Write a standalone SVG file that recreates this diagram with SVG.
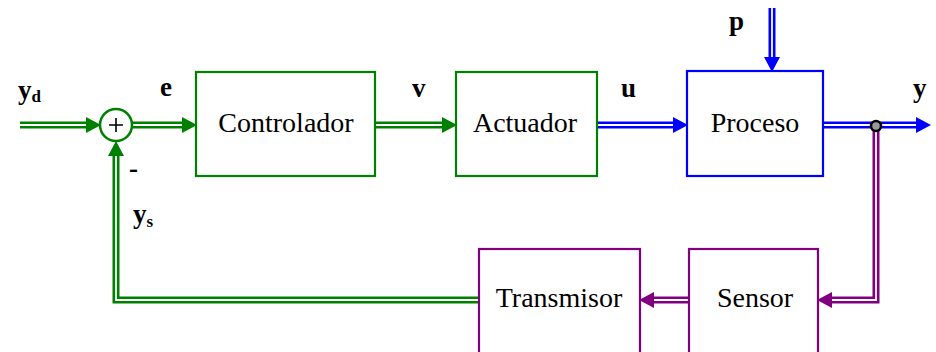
<svg xmlns="http://www.w3.org/2000/svg" width="936" height="352" viewBox="0 0 936 352">
  <style>
    .box { fill: #ffffff; stroke-width: 2.2; }
    .g { stroke: #008000; }
    .b { stroke: #0000ff; }
    .m { stroke: #800080; }
    .name { font-family: "Liberation Serif", "Times New Roman", serif; font-size: 28px; fill: #000; text-anchor: middle; }
    .sig { font-family: "Liberation Serif", "Times New Roman", serif; font-size: 27px; font-weight: bold; fill: #000; }
    .sub { font-size: 17px; }
    .wire { fill: none; stroke-width: 7; stroke-linejoin: miter; }
    .gap { fill: none; stroke: #ffffff; stroke-width: 1.8; stroke-linejoin: miter; }
  </style>
  <defs>
    <marker id="ahG" markerUnits="userSpaceOnUse" markerWidth="16" markerHeight="18" refX="0" refY="9" orient="auto" viewBox="0 0 16 18">
      <path d="M0,1 L15,9 L0,17 z" fill="#008000"/>
    </marker>
    <marker id="ahB" markerUnits="userSpaceOnUse" markerWidth="16" markerHeight="18" refX="0" refY="9" orient="auto" viewBox="0 0 16 18">
      <path d="M0,1 L15,9 L0,17 z" fill="#0000ff"/>
    </marker>
    <marker id="ahM" markerUnits="userSpaceOnUse" markerWidth="16" markerHeight="18" refX="0" refY="9" orient="auto" viewBox="0 0 16 18">
      <path d="M0,1 L15,9 L0,17 z" fill="#800080"/>
    </marker>
  </defs>

  <!-- double-line signal paths -->
  <g id="connectors">
    <!-- yd -> summing junction -->
    <path class="wire g" d="M20,125 H86" marker-end="url(#ahG)"/>
    <path class="gap" d="M20,125 H86"/>
    <!-- e -> Controlador -->
    <path class="wire g" d="M132,125 H182" marker-end="url(#ahG)"/>
    <path class="gap" d="M132,125 H182"/>
    <!-- v -> Actuador -->
    <path class="wire g" d="M375,125 H442" marker-end="url(#ahG)"/>
    <path class="gap" d="M375,125 H442"/>
    <!-- u -> Proceso -->
    <path class="wire b" d="M597,125 H673" marker-end="url(#ahB)"/>
    <path class="gap" d="M597,125 H673"/>
    <!-- p disturbance -->
    <path class="wire b" d="M772,8 V57" marker-end="url(#ahB)"/>
    <path class="gap" d="M772,8 V57"/>
    <!-- y output -->
    <path class="wire b" d="M823,125 H916" marker-end="url(#ahB)"/>
    <path class="gap" d="M823,125 H916"/>
    <!-- y -> Sensor -->
    <path class="wire m" d="M876,126 V300 H832" marker-end="url(#ahM)"/>
    <path class="gap" d="M876,130 V300 H832"/>
    <!-- Sensor -> Transmisor -->
    <path class="wire m" d="M689,300 H654" marker-end="url(#ahM)"/>
    <path class="gap" d="M689,300 H654"/>
    <!-- ys -> summing junction -->
    <path class="wire g" d="M479,300 H116 V156" marker-end="url(#ahG)"/>
    <path class="gap" d="M479,300 H116 V156"/>
    <!-- pick-off point -->
    <circle cx="876" cy="126" r="5" fill="#999999" stroke="#000" stroke-width="2.5"/>
  </g>

  <g id="sum">
    <circle cx="116" cy="125" r="16" fill="#ffffff" stroke="#008000" stroke-width="2.5"/>
    <path d="M109,125 H123 M116,118 V132" stroke="#000" stroke-width="1.6"/>
  </g>

  <g id="controlador">
    <rect class="box g" x="196" y="72" width="179" height="104"/>
    <text class="name" x="286" y="132">Controlador</text>
  </g>
  <g id="actuador">
    <rect class="box g" x="456" y="72" width="141" height="104"/>
    <text class="name" x="525" y="132">Actuador</text>
  </g>
  <g id="proceso">
    <rect class="box b" x="687" y="71" width="136" height="105"/>
    <text class="name" x="755" y="132">Proceso</text>
  </g>
  <g id="transmisor">
    <rect class="box m" x="479" y="249" width="161" height="110"/>
    <text class="name" x="559" y="307">Transmisor</text>
  </g>
  <g id="sensor">
    <rect class="box m" x="689" y="249" width="129" height="110"/>
    <text class="name" x="755" y="307">Sensor</text>
  </g>

  <g id="labels">
    <text class="sig" x="18" y="99">y<tspan class="sub" dy="3">d</tspan></text>
    <text class="sig" x="160" y="96">e</text>
    <text class="sig" x="412" y="97">v</text>
    <text class="sig" x="621" y="97">u</text>
    <text class="sig" x="729" y="30">p</text>
    <text class="sig" x="913" y="97">y</text>
    <text class="sig" x="129" y="177">-</text>
    <text class="sig" x="133" y="223">y<tspan class="sub" dy="4">s</tspan></text>
  </g>
</svg>
